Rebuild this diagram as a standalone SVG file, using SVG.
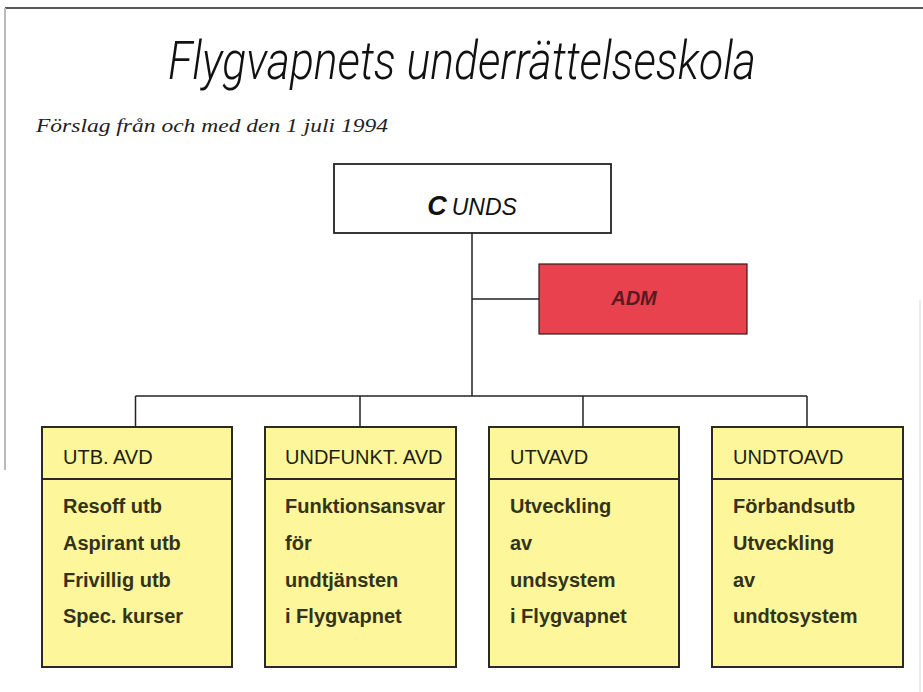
<svg xmlns="http://www.w3.org/2000/svg" width="923" height="692" viewBox="0 0 923 692">
<style>
.bg{fill:#ffffff}
.frame{stroke:#222;stroke-width:1.5;fill:none}
.frame2{stroke:#bbb;stroke-width:2;fill:none}
.conn{stroke:#222;stroke-width:1.5;fill:none}
.box{fill:#fdf69a;stroke:#2a2a22;stroke-width:2}
.div{stroke:#2a2a22;stroke-width:1.8}
.hdr{font-family:"Liberation Sans",Arial,sans-serif;font-size:20px;fill:#1e1e14}
.body{font-family:"Liberation Sans",Arial,sans-serif;font-size:20px;font-weight:bold;fill:#33331a}
.title{font-family:Roboto,"Liberation Sans",Arial,sans-serif;font-style:italic;font-weight:300;font-size:54px;fill:#111}
.sub{font-family:"Liberation Serif","Times New Roman",serif;font-style:italic;font-size:18px;fill:#222}
</style>
<rect class="bg" x="0" y="0" width="923" height="692"/>
<line class="frame" x1="5" y1="8" x2="923" y2="8"/>
<line class="frame2" x1="5" y1="8" x2="5" y2="470"/>
<line x1="920" y1="300" x2="920" y2="692" stroke="#e6e6e6" stroke-width="1.5"/>
<text class="title" x="462" y="79" text-anchor="middle" textLength="588" lengthAdjust="spacingAndGlyphs">Flygvapnets underrättelseskola</text>
<text class="sub" x="36" y="132" textLength="352" lengthAdjust="spacingAndGlyphs">Förslag från och med den 1 juli 1994</text>
<g id="connectors">
<line class="conn" x1="472" y1="233" x2="472" y2="396"/>
<line class="conn" x1="472" y1="299" x2="539" y2="299"/>
<line class="conn" x1="135.5" y1="396" x2="807" y2="396"/>
<line class="conn" x1="135.5" y1="396" x2="135.5" y2="427"/>
<line class="conn" x1="360" y1="396" x2="360" y2="427"/>
<line class="conn" x1="583" y1="396" x2="583" y2="427"/>
<line class="conn" x1="807" y1="396" x2="807" y2="427"/>
</g>
<g id="c-unds">
<rect x="334" y="164" width="277" height="69" fill="#ffffff" stroke="#222" stroke-width="1.8"/>
<text x="472" y="215" text-anchor="middle" font-family="'Liberation Sans',Arial,sans-serif" font-style="italic" fill="#111"><tspan font-size="27" font-weight="bold">C</tspan><tspan font-size="23" dx="5">UNDS</tspan></text>
</g>
<g id="adm">
<rect x="539" y="264" width="208" height="70" fill="#e8424f" stroke="#3a1a1a" stroke-width="1.2"/>
<text x="634" y="305" text-anchor="middle" font-family="'Liberation Sans',Arial,sans-serif" font-style="italic" font-weight="bold" font-size="20" fill="#5a1a20">ADM</text>
</g>
<g id="utb-avd">
<rect class="box" x="42" y="427" width="190" height="240"/>
<line class="div" x1="42" y1="479" x2="232" y2="479"/>
<text class="hdr" x="63" y="464">UTB. AVD</text>
<text class="body" x="63" y="513">Resoff utb</text>
<text class="body" x="63" y="550">Aspirant utb</text>
<text class="body" x="63" y="587">Frivillig utb</text>
<text class="body" x="63" y="623">Spec. kurser</text>
</g>
<g id="undfunkt-avd">
<rect class="box" x="265" y="427" width="191" height="240"/>
<line class="div" x1="265" y1="479" x2="456" y2="479"/>
<text class="hdr" x="285" y="464">UNDFUNKT. AVD</text>
<text class="body" x="285" y="513">Funktionsansvar</text>
<text class="body" x="285" y="550">för</text>
<text class="body" x="285" y="587">undtjänsten</text>
<text class="body" x="285" y="623">i Flygvapnet</text>
</g>
<g id="utvavd">
<rect class="box" x="489" y="427" width="190" height="240"/>
<line class="div" x1="489" y1="479" x2="679" y2="479"/>
<text class="hdr" x="510" y="464">UTVAVD</text>
<text class="body" x="510" y="513">Utveckling</text>
<text class="body" x="510" y="550">av</text>
<text class="body" x="510" y="587">undsystem</text>
<text class="body" x="510" y="623">i Flygvapnet</text>
</g>
<g id="undtoavd">
<rect class="box" x="712" y="427" width="191" height="240"/>
<line class="div" x1="712" y1="479" x2="903" y2="479"/>
<text class="hdr" x="733" y="464">UNDTOAVD</text>
<text class="body" x="733" y="513">Förbandsutb</text>
<text class="body" x="733" y="550">Utveckling</text>
<text class="body" x="733" y="587">av</text>
<text class="body" x="733" y="623">undtosystem</text>
</g>
</svg>
